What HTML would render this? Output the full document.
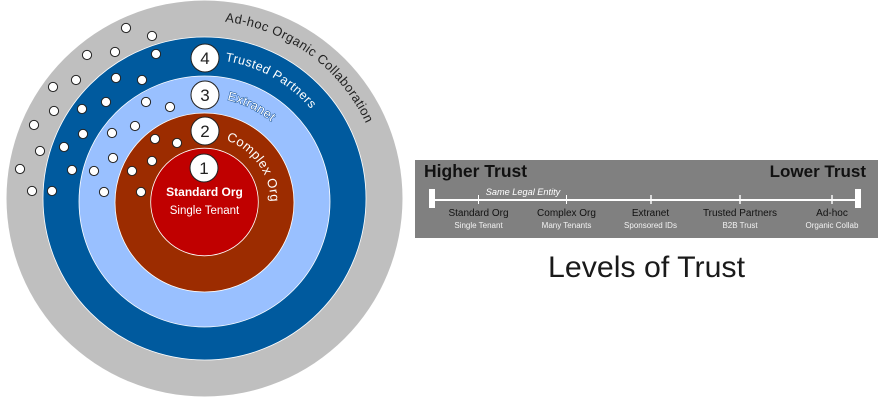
<!DOCTYPE html>
<html><head><meta charset="utf-8"><style>html,body{margin:0;padding:0;background:#fff;width:880px;height:400px;overflow:hidden}svg{display:block}text{font-family:"Liberation Sans",sans-serif}</style></head><body>
<svg width="880" height="400" viewBox="0 0 880 400" xmlns="http://www.w3.org/2000/svg">
<defs>
<path id="p1" d="M204.5 198.5 m-178 0 a178 178 0 0 1 356 0"/>
<path id="p2" d="M204.5 198.5 m-139 0 a139 139 0 0 1 278 0"/>
<path id="p3" d="M204.5 201.5 m-104 0 a104 104 0 0 1 208 0"/>
<path id="p4" d="M204.5 202.5 m-66 0 a66 66 0 0 1 132 0"/>
</defs>
<circle cx="204.5" cy="198.5" r="198" fill="#bfbfbf"/>
<circle cx="204.5" cy="198.5" r="161.5" fill="#005a9e" stroke="#fff" stroke-width=".8"/>
<circle cx="204.5" cy="201.5" r="125.5" fill="#99c0ff" stroke="#fff" stroke-width=".8"/>
<circle cx="204.5" cy="202.5" r="89.5" fill="#9c2c00" stroke="#fff" stroke-width=".8"/>
<circle cx="204.5" cy="202" r="53.8" fill="#c00000" stroke="#fff" stroke-width=".8"/>
<g fill="#fff" stroke="#222" stroke-width="1">
<circle cx="126" cy="28" r="4.6"/><circle cx="152" cy="36" r="4.6"/><circle cx="87" cy="55" r="4.6"/><circle cx="115" cy="52" r="4.6"/><circle cx="156" cy="54" r="4.6"/><circle cx="76" cy="80" r="4.6"/><circle cx="116" cy="78" r="4.6"/><circle cx="142" cy="80" r="4.6"/><circle cx="53" cy="87" r="4.6"/><circle cx="54" cy="111" r="4.6"/><circle cx="82" cy="109" r="4.6"/><circle cx="106" cy="102" r="4.6"/><circle cx="146" cy="102" r="4.6"/><circle cx="170" cy="107" r="4.6"/><circle cx="34" cy="125" r="4.6"/><circle cx="83" cy="134" r="4.6"/><circle cx="112" cy="133" r="4.6"/><circle cx="135" cy="126" r="4.6"/><circle cx="155" cy="139" r="4.6"/><circle cx="177" cy="143" r="4.6"/><circle cx="40" cy="151" r="4.6"/><circle cx="64" cy="147" r="4.6"/><circle cx="113" cy="158" r="4.6"/><circle cx="152" cy="161" r="4.6"/><circle cx="20" cy="169" r="4.6"/><circle cx="72" cy="170" r="4.6"/><circle cx="94" cy="171" r="4.6"/><circle cx="132" cy="171" r="4.6"/><circle cx="32" cy="191" r="4.6"/><circle cx="52" cy="191" r="4.6"/><circle cx="104" cy="192" r="4.6"/><circle cx="141" cy="192" r="4.6"/>
<circle cx="205" cy="58" r="14"/><circle cx="205" cy="95" r="14"/><circle cx="205" cy="131" r="14"/><circle cx="204" cy="168" r="14"/>
</g>
<g font-size="17" fill="#222" text-anchor="middle">
<text x="205" y="64">4</text><text x="205" y="101">3</text><text x="205" y="137">2</text><text x="204" y="174">1</text>
</g>
<text font-size="13" fill="#222" letter-spacing=".4"><textPath href="#p1" startOffset="300">Ad-hoc Organic Collaboration</textPath></text>
<text font-size="12.5" fill="#fff" letter-spacing=".5"><textPath href="#p2" startOffset="239">Trusted Partners</textPath></text>
<text font-size="12.5" fill="#fff" stroke="#1f5a9e" stroke-width="1.1" paint-order="stroke" letter-spacing=".4"><textPath href="#p3" startOffset="186">Extranet</textPath></text>
<text font-size="13" fill="#fff" letter-spacing=".4"><textPath href="#p4" startOffset="125.5">Complex Org</textPath></text>
<text x="204.5" y="196" font-size="12" font-weight="bold" fill="#fff" text-anchor="middle">Standard Org</text>
<text x="204.5" y="214" font-size="11.5" fill="#fff" text-anchor="middle">Single Tenant</text>

<rect x="415" y="160" width="463" height="78" fill="#808080"/>
<text x="424" y="177" font-size="17.5" font-weight="bold" fill="#111">Higher Trust</text>
<text x="866" y="177" font-size="17" font-weight="bold" fill="#111" text-anchor="end">Lower Trust</text>
<rect x="429" y="189" width="6" height="19" fill="#fff"/>
<rect x="855" y="189" width="6" height="19" fill="#fff"/>
<rect x="432" y="199" width="426" height="2" fill="#fff"/>
<g fill="#fff"><rect x="478" y="195" width="1" height="9"/><rect x="566" y="195" width="1" height="9"/><rect x="650.3" y="195" width="1.4" height="9"/><rect x="739.3" y="195" width="1.4" height="9"/><rect x="831.3" y="195" width="1.4" height="9"/></g>
<text x="523" y="195" font-size="9.2" font-style="italic" fill="#fff" text-anchor="middle">Same Legal Entity</text>
<g font-size="10" fill="#111" text-anchor="middle">
<text x="478.5" y="216">Standard Org</text><text x="566.5" y="216">Complex Org</text><text x="650.5" y="216">Extranet</text><text x="740" y="216">Trusted Partners</text><text x="832" y="216">Ad-hoc</text>
</g>
<g font-size="8" fill="#f2f2f2" text-anchor="middle">
<text x="478.5" y="228">Single Tenant</text><text x="566.5" y="228">Many Tenants</text><text x="650.5" y="228">Sponsored IDs</text><text x="740" y="228">B2B Trust</text><text x="832" y="228">Organic Collab</text>
</g>
<text x="646.5" y="277" font-size="30" fill="#1a1a1a" text-anchor="middle" textLength="197" lengthAdjust="spacingAndGlyphs">Levels of Trust</text>
</svg>
</body></html>
